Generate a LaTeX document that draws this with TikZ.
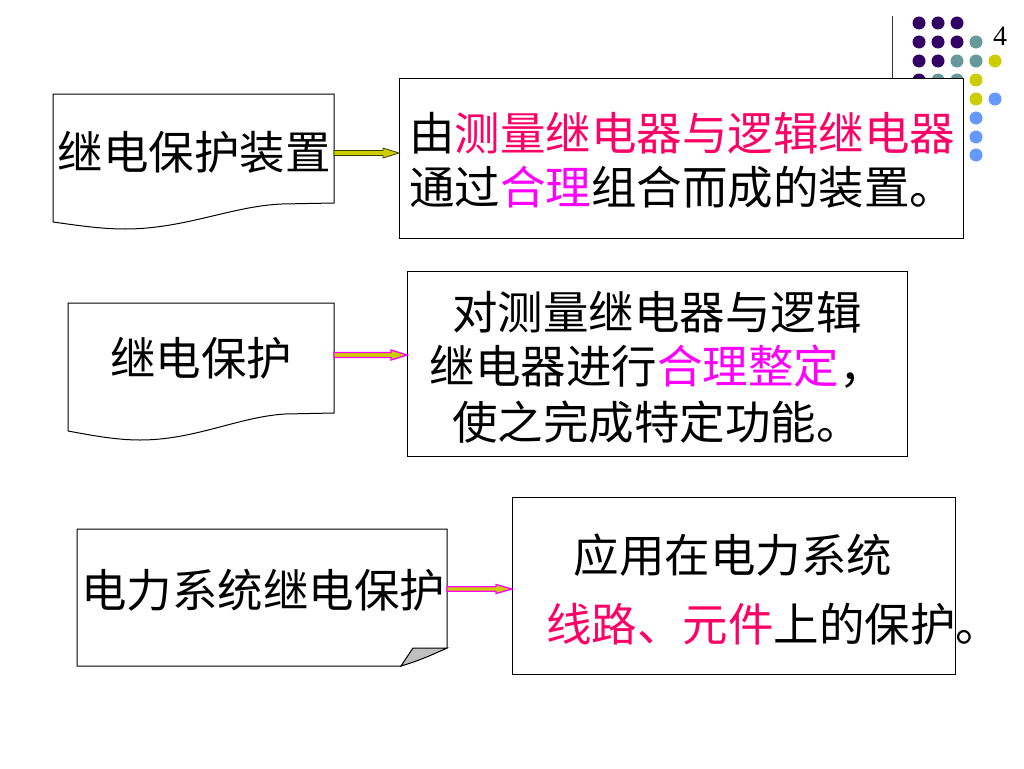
\documentclass[tikz,border=0pt]{standalone}
\usepackage{fontspec}
\newfontfamily\cjk{Noto Sans CJK SC}
\newfontfamily\numfont{Liberation Serif}
\usetikzlibrary{calc}
\definecolor{pk}{HTML}{FF0066}
\definecolor{mg}{HTML}{FF00FF}
\definecolor{dpurple}{HTML}{330066}
\definecolor{dteal}{HTML}{669999}
\definecolor{dyellow}{HTML}{CCCC00}
\definecolor{dblue}{HTML}{6699FF}
\definecolor{foldgray}{HTML}{C0C0C0}
\newcommand\blockarr[5]{%
  \draw[#1] ($(#2)+(0,-#4)$) -- ($(#3)+(-16,-#4)$) -- ($(#3)+(-16,-#5)$) -- (#3)
    -- ($(#3)+(-16,#5)$) -- ($(#3)+(-16,#4)$) -- ($(#2)+(0,#4)$) -- cycle;}
\begin{document}
\begin{tikzpicture}[x=1pt,y=-1pt,
  txt/.style={inner sep=0pt, font=\cjk\fontsize{45.5}{45.5}\selectfont},
  box/.style={draw=black, fill=white, line width=1pt, inner sep=0pt},
  docshape/.style={draw=black, fill=white, line width=1pt},
  dot/.style={circle, inner sep=0pt, minimum size=13pt},
  arrA/.style={fill=dyellow, draw=black!70!dyellow, line width=0.8pt},
  arrB/.style={fill=dyellow, draw=mg, line width=1.3pt}]
\useasboundingbox (0,0) rectangle (1024,768);
\fill[white] (0,0) rectangle (1024,768);

% decoration: line and dots
\draw[line width=1pt, black!80] (892,16) -- (892,90);
\foreach \x/\y in {919/23,938/23,957/23,919/42,938/42,957/42,919/61,938/61,919/80}
  \node[dot, fill=dpurple] at (\x,\y) {};
\foreach \x/\y in {976/42,957/61,976/61,938/80,957/80}
  \node[dot, fill=dteal] at (\x,\y) {};
\foreach \x/\y in {995/61,976/80,976/99}
  \node[dot, fill=dyellow] at (\x,\y) {};
\foreach \x/\y in {995/99,976/118,976/137,976/155}
  \node[dot, fill=dblue] at (\x,\y) {};
\node[inner sep=0pt, font=\numfont\fontsize{28}{28}\selectfont] (pg) at (1000,36) {4};

% row 1
\draw[docshape] (53,94) -- (334,94) -- (334,203) -- (282,204)
  .. controls (232,206) and (185,229) .. (125,229)
  .. controls (100,229) and (75,225) .. (53,222) -- cycle;
\coordinate (b1e) at (334,153);
\node[box, anchor=north west, minimum width=564pt, minimum height=160pt] (b2) at (399,78) {};
\node[txt] (t1) at (194,152) {继电保护装置};
\node[txt, anchor=west] (t2a) at (409,133) {由\textcolor{pk}{测量继电器与逻辑继电器}};
\node[txt, anchor=west] (t2b) at (409,187) {通过\textcolor{mg}{合理}组合而成的装置。};
\coordinate (b2w) at (b2.west |- b1e);
\blockarr{arrA}{b1e}{b2w}{2.5}{5}

% row 2
\draw[docshape] (68,303) -- (334,303) -- (334,413) -- (285,414)
  .. controls (238,417) and (195,440) .. (140,440)
  .. controls (115,440) and (90,435) .. (68,431) -- cycle;
\coordinate (b3e) at (334,355);
\node[box, anchor=north west, minimum width=500pt, minimum height=185pt] (b4) at (407,271) {};
\node[txt] (t3) at (201,358) {继电保护};
\node[txt] (t4a) at (657,312) {对测量继电器与逻辑};
\node[txt] (t4b) at (657,367) {继电器进行\textcolor{mg}{合理整定}，};
\node[txt] (t4c) at (657,422) {使之完成特定功能。};
\coordinate (b4w) at (b4.west |- b3e);
\blockarr{arrB}{b3e}{b4w}{2.5}{5}

% row 3
\draw[docshape] (77,529) -- (447,529) -- (447,648) -- (401,666) -- (77,666) -- cycle;
\draw[line width=1pt, fill=foldgray] (447,648) -- (413,648) -- (401,666)
  .. controls (418,661) and (432,655) .. (447,648) -- cycle;
\coordinate (b5e) at (447,589);
\node[box, anchor=north west, minimum width=443pt, minimum height=177pt] (b6) at (512,497) {};
\node[txt] (t5) at (263,590) {电力系统继电保护};
\node[txt] (t6a) at (733,555) {应用在电力系统};
\node[txt, anchor=west] (t6b) at (546,624) {\textcolor{pk}{线路、元件}上的保护。};
\coordinate (b6w) at (b6.west |- b5e);
\blockarr{arrB}{b5e}{b6w}{2.3}{4.5}
\end{tikzpicture}
\end{document}
